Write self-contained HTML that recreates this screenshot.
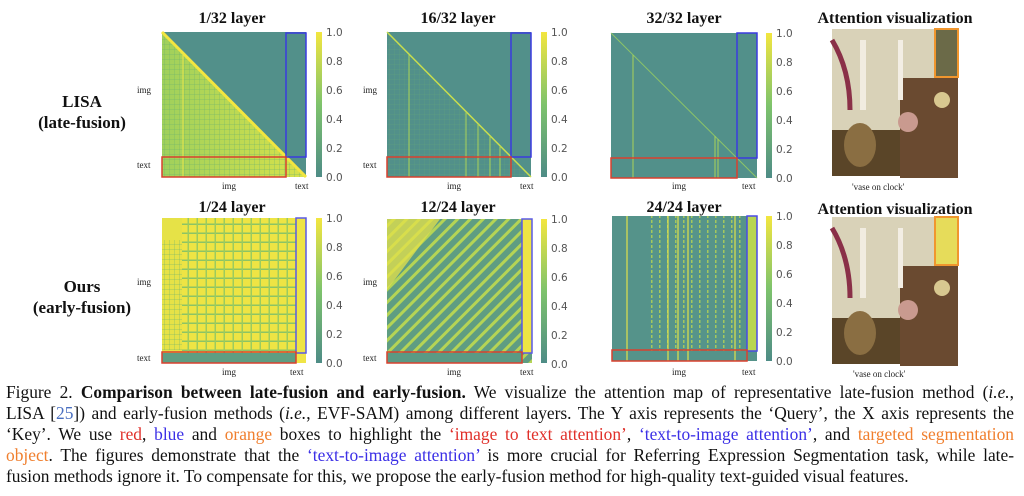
<!DOCTYPE html>
<html><head><meta charset="utf-8"><style>
body{margin:0;width:1024px;height:496px;background:#fff;overflow:hidden;position:relative;font-family:"Liberation Serif",serif}
svg{position:absolute;left:0;top:0}
.cap{position:absolute;left:6px;top:382px;width:1008px;font-size:17.4px;line-height:21px;color:#111}
.cap div{text-align:justify;text-align-last:justify;white-space:nowrap}
.cap div.last{text-align-last:left}
.r{color:#e0302a}.b{color:#3b2fe6}.o{color:#f07f2e}.l{color:#4a6fc0}
</style></head><body>
<svg width="1024" height="380" viewBox="0 0 1024 380">
<defs>
<linearGradient id="cb" x1="0" y1="1" x2="0" y2="0"><stop offset="0" stop-color="#4e8c86"/><stop offset="0.5" stop-color="#7ec36c"/><stop offset="1" stop-color="#f3e63f"/></linearGradient>
<linearGradient id="tri" x1="0" y1="0" x2="1" y2="0"><stop offset="0" stop-color="#9fd05c"/><stop offset="1" stop-color="#d8e24a"/></linearGradient>
<pattern id="grid1" width="5" height="5" patternUnits="userSpaceOnUse"><rect x="0" y="4" width="5" height="1" fill="#6fb56e" opacity=".3"/><rect x="4" y="0" width="1" height="5" fill="#6fb56e" opacity=".3"/></pattern>
<pattern id="chk" width="9" height="9" patternUnits="userSpaceOnUse"><rect width="9" height="9" fill="#eee444"/><rect x="0" y="7.5" width="9" height="1.5" fill="#8cc465"/><rect x="7.5" y="0" width="1.5" height="9" fill="#9ccb5e"/></pattern>
<pattern id="diag" width="9" height="9" patternUnits="userSpaceOnUse" patternTransform="rotate(45)"><rect width="9" height="9" fill="#5f9d82"/><rect x="0" y="0" width="3" height="9" fill="#b5d455"/></pattern>
<pattern id="vert" width="8" height="5" patternUnits="userSpaceOnUse"><rect width="8" height="5" fill="#56948a"/><rect x="3" y="0" width="1.5" height="3" fill="#b8d552"/></pattern>
</defs>
<g font-family="Liberation Serif" font-weight="bold" font-size="16" text-anchor="middle" fill="#111">
<text x="232" y="23">1/32 layer</text><text x="458" y="23">16/32 layer</text><text x="684" y="23">32/32 layer</text><text x="895" y="23">Attention visualization</text>
<text x="232" y="212">1/24 layer</text><text x="458" y="212">12/24 layer</text><text x="684" y="212">24/24 layer</text><text x="895" y="214">Attention visualization</text>
<text x="82" y="107" font-size="17">LISA</text><text x="82" y="128" font-size="17">(late-fusion)</text>
<text x="82" y="292" font-size="17">Ours</text><text x="82" y="313" font-size="17">(early-fusion)</text>
</g>
<rect x="162" y="32" width="144" height="145" fill="#52908a"/>
<polygon points="162,32 306,177 162,177" fill="url(#tri)"/>
<polygon points="162,32 306,177 162,177" fill="url(#grid1)"/>
<line x1="162" y1="32" x2="306" y2="177" stroke="#f3e63f" stroke-width="3"/>
<line x1="183" y1="52" x2="183" y2="177" stroke="#e8e64a" stroke-width="1"/>
<rect x="387" y="32" width="144" height="145" fill="#52908a"/>
<polygon points="387,32 531,177 387,177" fill="url(#grid1)" opacity=".5"/>
<line x1="387" y1="32" x2="531" y2="177" stroke="#c9de4d" stroke-width="1.5"/>
<g stroke="#a9d258" stroke-width="1"><line x1="409" y1="55" x2="409" y2="177"/><line x1="466" y1="112" x2="466" y2="177"/><line x1="478" y1="124" x2="478" y2="177"/><line x1="490" y1="136" x2="490" y2="177"/><line x1="500" y1="146" x2="500" y2="177"/></g>
<rect x="611" y="33" width="146" height="145" fill="#52908a"/>
<line x1="611" y1="33" x2="757" y2="178" stroke="#8dc468" stroke-width="1"/>
<g stroke="#a9d258" stroke-width="1"><line x1="633" y1="55" x2="633" y2="178"/><line x1="715" y1="136" x2="715" y2="178"/><line x1="718" y1="139" x2="718" y2="178"/></g>
<rect x="162" y="218" width="144" height="145" fill="url(#chk)"/>
<rect x="162" y="218" width="20" height="135" fill="#e6e247"/>
<rect x="162" y="240" width="20" height="110" fill="url(#grid1)"/>
<rect x="296" y="218" width="10" height="135" fill="#eee444"/>
<rect x="162" y="353" width="134" height="10" fill="#5e9e82"/>
<rect x="296" y="353" width="10" height="10" fill="#f0e546"/>
<rect x="387" y="219" width="145" height="144" fill="url(#diag)"/>
<polygon points="387,219 440,219 387,290" fill="#e4e14a" opacity=".75"/>
<rect x="522" y="219" width="10" height="134" fill="#eee444"/>
<rect x="387" y="353" width="135" height="10" fill="#5a9a84"/>
<rect x="612" y="216" width="145" height="145" fill="#55938a"/>
<rect x="650" y="216" width="100" height="135" fill="url(#vert)" opacity=".8"/>
<g stroke="#dfe24a" stroke-width="1.2"><line x1="627" y1="216" x2="627" y2="361"/><line x1="668" y1="216" x2="668" y2="361"/><line x1="678" y1="216" x2="678" y2="361"/><line x1="688" y1="216" x2="688" y2="361"/><line x1="735" y1="216" x2="735" y2="361"/></g>
<rect x="747" y="216" width="10" height="135" fill="#b8d552"/>
<g fill="none" stroke-width="1.5">
<rect x="286" y="33" width="20" height="124" stroke="#3a3ae0"/><rect x="162" y="157" width="124" height="20" stroke="#d9412e"/>
<rect x="511" y="33" width="20" height="124" stroke="#3a3ae0"/><rect x="387" y="157" width="124" height="20" stroke="#d9412e"/>
<rect x="737" y="33" width="20" height="125" stroke="#3a3ae0"/><rect x="611" y="158" width="126" height="20" stroke="#d9412e"/>
<rect x="296" y="218" width="10" height="135" stroke="#5a5ae6"/><rect x="162" y="352" width="134" height="11" stroke="#d9412e"/>
<rect x="522" y="219" width="10" height="134" stroke="#5a5ae6"/><rect x="387" y="352" width="135" height="11" stroke="#d9412e"/>
<rect x="747" y="216" width="10" height="135" stroke="#4a4ae6"/><rect x="612" y="350" width="135" height="11" stroke="#d9412e"/>
</g>
<g fill="url(#cb)"><rect x="316" y="32" width="6" height="145"/><rect x="541" y="32" width="6" height="145"/><rect x="766" y="33" width="6" height="145"/>
<rect x="316" y="218" width="6" height="145"/><rect x="541" y="219" width="6" height="144"/><rect x="766" y="216" width="6" height="145"/></g>
<g font-family="DejaVu Sans" font-size="10.5" fill="#555">
<g transform="translate(326,0)"><text y="36">1.0</text><text y="65">0.8</text><text y="94">0.6</text><text y="123">0.4</text><text y="152">0.2</text><text y="181">0.0</text></g>
<g transform="translate(551,0)"><text y="36">1.0</text><text y="65">0.8</text><text y="94">0.6</text><text y="123">0.4</text><text y="152">0.2</text><text y="181">0.0</text></g>
<g transform="translate(776,0)"><text y="37">1.0</text><text y="66">0.8</text><text y="95">0.6</text><text y="124">0.4</text><text y="153">0.2</text><text y="182">0.0</text></g>
<g transform="translate(326,0)"><text y="222">1.0</text><text y="251">0.8</text><text y="280">0.6</text><text y="309">0.4</text><text y="338">0.2</text><text y="367">0.0</text></g>
<g transform="translate(551,0)"><text y="223">1.0</text><text y="252">0.8</text><text y="281">0.6</text><text y="310">0.4</text><text y="339">0.2</text><text y="368">0.0</text></g>
<g transform="translate(776,0)"><text y="220">1.0</text><text y="249">0.8</text><text y="278">0.6</text><text y="307">0.4</text><text y="336">0.2</text><text y="365">0.0</text></g>
</g>
<g font-family="Liberation Serif" font-size="9" fill="#222">
<text x="137" y="93">img</text><text x="137" y="168">text</text><text x="363" y="93">img</text><text x="363" y="168">text</text>
<text x="137" y="285">img</text><text x="137" y="361">text</text><text x="363" y="285">img</text><text x="363" y="361">text</text>
<text x="222" y="189">img</text><text x="295" y="189">text</text><text x="447" y="189">img</text><text x="520" y="189">text</text><text x="672" y="189">img</text><text x="742" y="189">text</text>
<text x="222" y="375">img</text><text x="290" y="375">text</text><text x="447" y="375">img</text><text x="520" y="375">text</text><text x="672" y="375">img</text><text x="742" y="375">text</text>
<text x="852" y="190">'vase on clock'</text><text x="853" y="377">'vase on clock'</text>
</g>
<g id="ph">
<rect x="832" y="29" width="126" height="147" fill="#d9d2b8"/>
<rect x="832" y="130" width="126" height="46" fill="#5a4528"/>
<rect x="900" y="78" width="58" height="100" fill="#6a4a30"/>
<rect x="860" y="40" width="6" height="70" fill="#f1ece0"/><rect x="898" y="40" width="5" height="60" fill="#f3eee4"/>
<ellipse cx="860" cy="145" rx="16" ry="22" fill="#8a6e42"/>
<ellipse cx="908" cy="122" rx="10" ry="10" fill="#c99a8f"/>
<circle cx="942" cy="100" r="8" fill="#d8c890"/>
<path d="M832 40 Q850 70 850 110" stroke="#8a3048" stroke-width="5" fill="none"/>
<rect x="935" y="29" width="23" height="48" fill="#6b6a48" stroke="#f0962e" stroke-width="2"/>
</g>
<use href="#ph" transform="translate(0,188)"/>
<rect x="935" y="217" width="23" height="48" fill="#e6dc5a" stroke="#f0962e" stroke-width="2"/>
</svg>
<div class="cap">
<div>Figure 2. <b>Comparison between late-fusion and early-fusion.</b> We visualize the attention map of representative late-fusion method (<i>i.e.</i>,</div>
<div>LISA [<span class="l">25</span>]) and early-fusion methods (<i>i.e.</i>, EVF-SAM) among different layers. The Y axis represents the ‘Query’, the X axis represents the</div>
<div>‘Key’. We use <span class="r">red</span>, <span class="b">blue</span> and <span class="o">orange</span> boxes to highlight the <span class="r">‘image to text attention’</span>, <span class="b">‘text-to-image attention’</span>, and <span class="o">targeted segmentation</span></div>
<div><span class="o">object</span>. The figures demonstrate that the <span class="b">‘text-to-image attention’</span> is more crucial for Referring Expression Segmentation task, while late-</div>
<div class="last">fusion methods ignore it. To compensate for this, we propose the early-fusion method for high-quality text-guided visual features.</div>
</div>
</body></html>
